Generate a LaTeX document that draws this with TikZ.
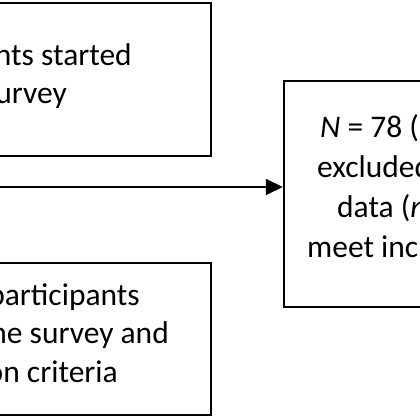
\documentclass[tikz,border=0pt]{standalone}
\usepackage{fontspec}
\setmainfont{Carlito}
\usetikzlibrary{arrows.meta,positioning}

\begin{document}
\begin{tikzpicture}[
  x=1pt, y=-1pt,
  >={Triangle[length=17pt, width=16pt]},
  box/.style={draw, line width=2.5pt, inner sep=0pt},
  txt/.style={inner sep=0pt, font=\fontsize{31.5}{40}\selectfont},
  arr/.style={->, line width=2pt},
]

\useasboundingbox (0,0) rectangle (420,420);
\clip (0,0) rectangle (420,420);

\node[box, minimum width=231pt, minimum height=153pt] (started) at (95.5,79.5) {};
\node[txt, anchor=base east] (started1) at (132,66) {participants started};
\node[txt, anchor=base east] (started2) at (67,103) {the survey};

\node[box, minimum width=231pt, minimum height=152pt] (complete) at (95.5,339) {};
\node[txt, anchor=base east] (complete1) at (140,305) {participants};
\node[txt, anchor=base east] (complete2) at (169,343) {the survey and};
\node[txt, anchor=base east] (complete3) at (118,382) {inclusion criteria};

\node[box, minimum width=156pt, minimum height=226pt] (excl) at (362,194) {};
\node[txt, anchor=base west] (excl1) at (320,137) {\textit{N} = 78 (};
\node[txt, anchor=base west] (excl2) at (317,177) {excluded};
\node[txt, anchor=base west] (excl3) at (337,217) {data (\textit{n}};
\node[txt, anchor=base west] (excl4) at (307,257) {meet inclusion};

\coordinate (split) at (-5,187);
\draw[arr] (split) -- (excl.west |- split);

\end{tikzpicture}
\end{document}
